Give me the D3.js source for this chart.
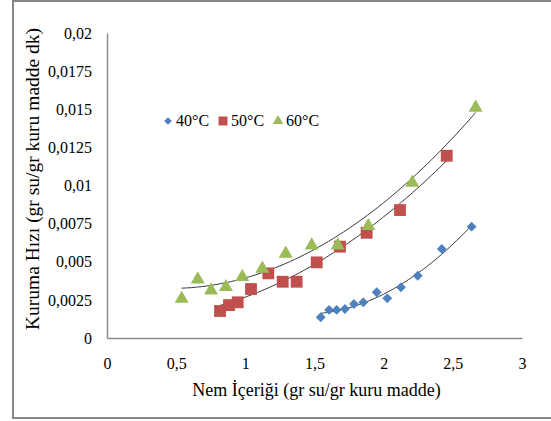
<!DOCTYPE html>
<html>
<head>
<meta charset="utf-8">
<script src="https://cdn.jsdelivr.net/npm/d3@7"></script>
<style>
  html, body { margin: 0; padding: 0; background: #fff; }
  svg { display: block; }
</style>
</head>
<body>
<svg id="chart" width="551" height="421"></svg>
<script>
// Moisture content (g water / g dry matter) and drying rate per temperature
const x40 = [1.545, 1.605, 1.66, 1.72, 1.785, 1.853, 1.95, 2.026, 2.125, 2.246, 2.42, 2.636];
const y40 = [0.00136, 0.00184, 0.00184, 0.0019, 0.00223, 0.00234, 0.0030, 0.0026, 0.00332, 0.00408, 0.00584, 0.0073];

const x50 = [0.817, 0.882, 0.945, 1.041, 1.166, 1.27, 1.371, 1.516, 1.684, 1.877, 2.118, 2.456];
const y50 = [0.00177, 0.00216, 0.00234, 0.00321, 0.00424, 0.00369, 0.00369, 0.00496, 0.00599, 0.0069, 0.00839, 0.01195];

const x60 = [0.54, 0.656, 0.752, 0.86, 0.978, 1.123, 1.292, 1.48, 1.668, 1.889, 2.207, 2.665];
const y60 = [0.00264, 0.00391, 0.00319, 0.00341, 0.00407, 0.00461, 0.0056, 0.00614, 0.00614, 0.00741, 0.01025, 0.01517];

const seriesNames = ["40°C", "50°C", "60°C"];
const xTicks = [0, 0.5, 1, 1.5, 2, 2.5, 3];
const yTicks = [0, 0.0025, 0.005, 0.0075, 0.01, 0.0125, 0.015, 0.0175, 0.02];
const xTitle = "Nem İçeriği (gr su/gr kuru madde)";
const yTitle = "Kuruma Hızı (gr su/gr kuru madde dk)";

const FONT = "'Liberation Serif', 'Times New Roman', serif";
const colors = ["#4F81BD", "#C0504D", "#9BBB59"];
const symbols = [d3.symbolDiamond2, d3.symbolSquare, d3.symbolTriangle];
const markerSizes = [62, 140, 85];
const legendSizes = [38, 80, 48];

const svg = d3.select("#chart");

// outer chart frame
svg.append("rect")
  .attr("x", 13).attr("y", 1)
  .attr("width", 560).attr("height", 417)
  .attr("fill", "#fff").attr("stroke", "#878787").attr("stroke-width", 2);

const x = d3.scaleLinear().domain([0, 3]).range([107, 522]);
const y = d3.scaleLinear().domain([0, 0.02]).range([338, 33]);

const comma = v => String(v).replace(".", ",");

const gx = svg.append("g").attr("transform", `translate(0,${y(0)})`)
  .call(d3.axisBottom(x).tickValues(xTicks).tickSize(0).tickPadding(20).tickFormat(comma));
const gy = svg.append("g").attr("transform", `translate(${x(0)},0)`)
  .call(d3.axisLeft(y).tickValues(yTicks).tickSize(0).tickPadding(15).tickFormat(comma));

[gx, gy].forEach(g => {
  g.select(".domain").attr("stroke", "#8c8c8c").attr("stroke-width", 1.5);
  g.selectAll("text").style("font-family", FONT)
    .attr("font-size", 16).attr("fill", "#000");
});

// axis titles
svg.append("text")
  .attr("x", (x(0) + x(3)) / 2 + 2).attr("y", 396)
  .attr("text-anchor", "middle")
  .style("font-family", FONT)
  .attr("font-size", 18).attr("fill", "#000")
  .text(xTitle);

svg.append("text")
  .attr("transform", `translate(39,${179}) rotate(-90)`)
  .attr("text-anchor", "middle")
  .style("font-family", FONT)
  .attr("font-size", 19.5).attr("fill", "#000")
  .text(yTitle);

// least-squares quadratic fit: returns coefficients [c0, c1, c2]
function polyFit2(xs, ys) {
  let S = [0, 0, 0, 0, 0], T = [0, 0, 0];
  xs.forEach((xv, i) => {
    let p = 1;
    for (let k = 0; k < 5; k++) { S[k] += p; p *= xv; }
    T[0] += ys[i]; T[1] += ys[i] * xv; T[2] += ys[i] * xv * xv;
  });
  const A = [[S[0], S[1], S[2], T[0]], [S[1], S[2], S[3], T[1]], [S[2], S[3], S[4], T[2]]];
  for (let c = 0; c < 3; c++) {
    for (let r = c + 1; r < 3; r++) {
      const f = A[r][c] / A[c][c];
      for (let k = c; k < 4; k++) A[r][k] -= f * A[c][k];
    }
  }
  const sol = [0, 0, 0];
  for (let r = 2; r >= 0; r--) {
    let s = A[r][3];
    for (let k = r + 1; k < 3; k++) s -= A[r][k] * sol[k];
    sol[r] = s / A[r][r];
  }
  return sol;
}

const series = [[x40, y40], [x50, y50], [x60, y60]];

// trend lines
series.forEach(([xs, ys]) => {
  const c = polyFit2(xs, ys);
  const lo = d3.min(xs), hi = d3.max(xs);
  const pts = d3.range(0, 61).map(i => {
    const xv = lo + (hi - lo) * i / 60;
    return [xv, c[0] + c[1] * xv + c[2] * xv * xv];
  });
  svg.append("path")
    .attr("d", d3.line().x(d => x(d[0])).y(d => y(d[1]))(pts))
    .attr("fill", "none").attr("stroke", "#3a3a3a").attr("stroke-width", 1);
});

// markers
series.forEach(([xs, ys], si) => {
  svg.append("g").selectAll("path")
    .data(xs.map((xv, i) => [xv, ys[i]]))
    .join("path")
    .attr("transform", d => `translate(${x(d[0])},${y(d[1]) + (si === 2 ? 1 : 0)})`)
    .attr("d", d3.symbol().type(symbols[si]).size(markerSizes[si]))
    .attr("fill", colors[si]);
});

// legend
const legendX = [168, 223, 278];
const lg = svg.append("g");
seriesNames.forEach((name, i) => {
  lg.append("path")
    .attr("transform", `translate(${legendX[i]},${121})`)
    .attr("d", d3.symbol().type(symbols[i]).size(legendSizes[i]))
    .attr("fill", colors[i]);
  lg.append("text")
    .attr("x", legendX[i] + 8).attr("y", 126)
    .style("font-family", FONT)
    .attr("font-size", 16).attr("fill", "#000")
    .text(name);
});
</script>
</body>
</html>
